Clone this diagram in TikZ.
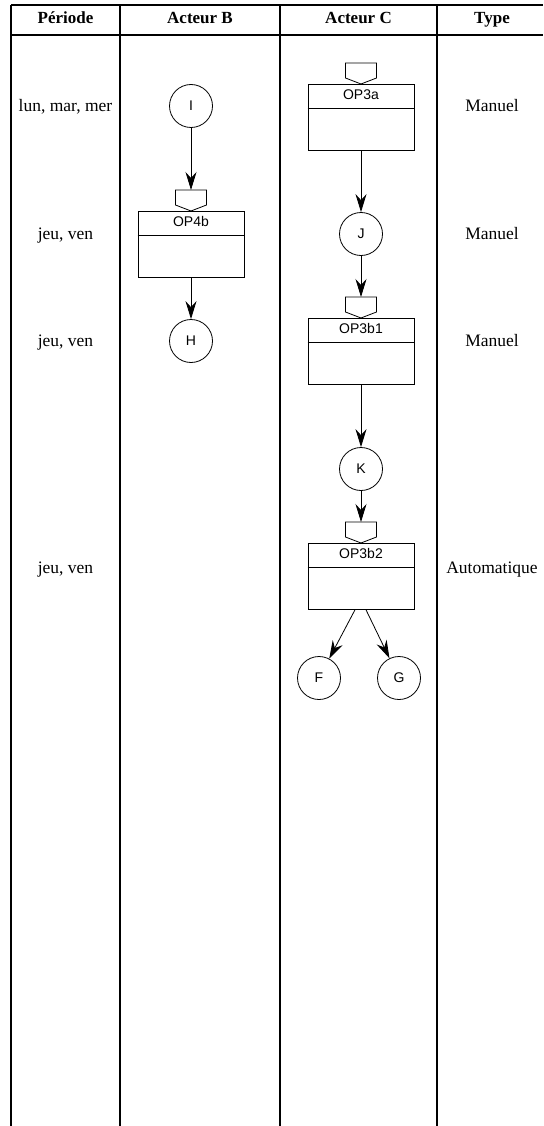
\documentclass[tikz,border=0pt]{standalone}
\usepackage{fontspec}
\setmainfont{Liberation Serif}
\setsansfont{Liberation Sans}
\usetikzlibrary{arrows.meta}

\tikzset{
  lane/.style={line width=1.1pt},
  entete/.style={font=\fontsize{17}{20}\selectfont\bfseries, text height=12pt, text depth=4pt},
  periode/.style={font=\fontsize{17.5}{20}\selectfont, text height=12pt, text depth=4pt},
  etat/.style={draw, circle, line width=0.8pt, minimum size=43pt, inner sep=0pt,
    font=\sffamily\fontsize{14}{16}\selectfont},
  opbox/.style={draw, line width=0.8pt, minimum width=106pt, minimum height=66pt, inner sep=0pt},
  optitre/.style={font=\sffamily\fontsize{14}{16}\selectfont, text height=10pt, text depth=3pt},
  arr/.style={-{Stealth[length=18pt, width=11pt, inset=6pt]}, line width=0.8pt},
}

% boite d'operation : nom, x, haut, titre
\newcommand{\tache}[4]{%
  \node[opbox, anchor=north] (#1) at (#2,#3) {};
  \draw[line width=0.8pt] ([yshift=-24pt]#1.north west) -- ([yshift=-24pt]#1.north east);
  \node[optitre] at ([yshift=-12pt]#1.north) {#4};
  \draw[line width=0.8pt] (#1.north) -- ++(-15.5,-6) -- ++(0,-15) -- ++(31,0) -- ++(0,15) -- cycle;
  \path (#1.north) ++(0,-21) coordinate (#1-in);
}

\begin{document}
\begin{tikzpicture}[x=1pt, y=-1pt]
    \useasboundingbox (0,0) rectangle (543,1126);

    % grille du tableau
    \draw[lane] (11,5) -- (543,5);
    \draw[lane] (11,35) -- (543,35);
    \foreach \x in {11,120,280,437}
        \draw[lane] (\x,5) -- (\x,1126);

    % en-tetes
    \node[entete] (hP) at (65.5,20) {Période};
    \node[entete] (hB) at (200,20) {Acteur B};
    \node[entete] (hC) at (358.5,20) {Acteur C};
    \node[entete] (hT) at (492,20) {Type};

    % periodes et types
    \node[periode] (p1) at (65.5,108) {lun, mar, mer};
    \node[periode] (p2) at (65.5,235) {jeu, ven};
    \node[periode] (p3) at (65.5,342) {jeu, ven};
    \node[periode] (p4) at (65.5,569) {jeu, ven};
    \node[periode] (t1) at (492,108) {Manuel};
    \node[periode] (t2) at (492,235) {Manuel};
    \node[periode] (t3) at (492,342) {Manuel};
    \node[periode] (t4) at (492,569) {Automatique};

    % acteur B
    \node[etat] (I) at (191,106) {I};
    \tache{op4b}{191}{211}{OP4b}
    \node[etat] (H) at (191,341) {H};

    % acteur C
    \tache{op3a}{361}{84}{OP3a}
    \node[etat] (J) at (361,234) {J};
    \tache{op3b1}{361}{318}{OP3b1}
    \node[etat] (K) at (361,469) {K};
    \tache{op3b2}{361}{543}{OP3b2}
    \node[etat] (F) at (319,678) {F};
    \node[etat] (G) at (399,678) {G};

    % fleches
    \draw[arr] (I) -- (op4b-in);
    \draw[arr] (op4b) -- (H);
    \draw[arr] (op3a) -- (J);
    \draw[arr] (J) -- (op3b1-in);
    \draw[arr] (op3b1) -- (K);
    \draw[arr] (K) -- (op3b2-in);
    \draw[arr] ([xshift=-6pt]op3b2.south) -- (F);
    \draw[arr] ([xshift=5pt]op3b2.south) -- (G);

\end{tikzpicture}
\end{document}
